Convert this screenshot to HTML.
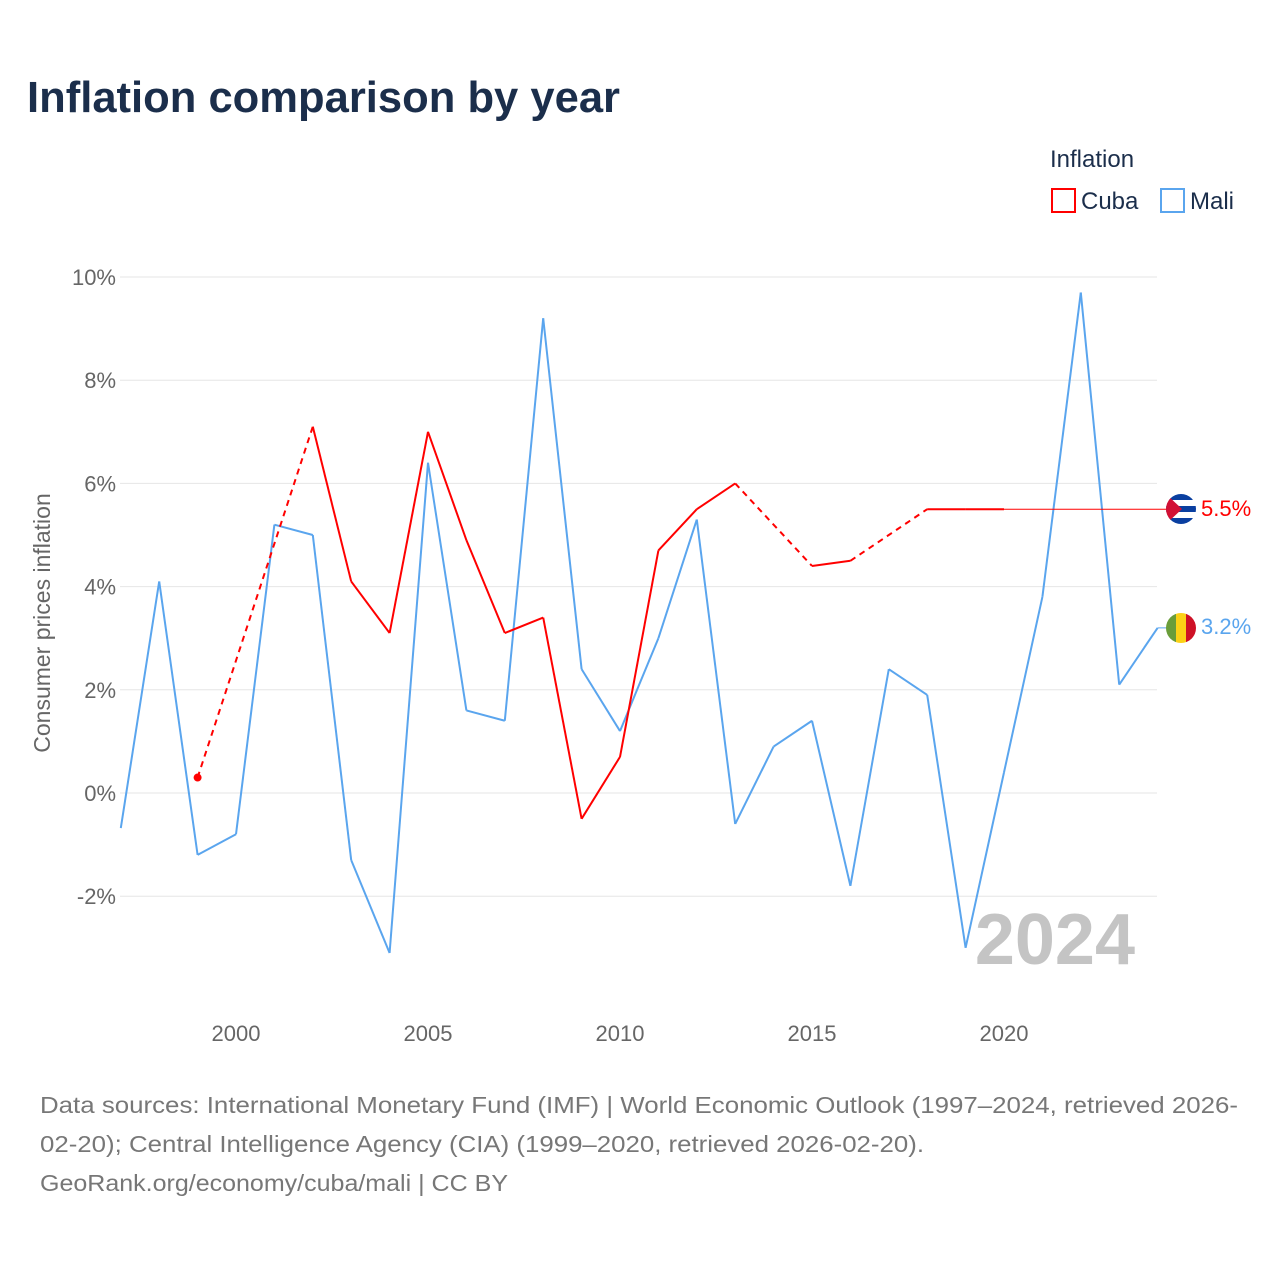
<!DOCTYPE html>
<html><head><meta charset="utf-8"><style>
body{margin:0;background:#fff;font-family:"Liberation Sans",sans-serif}
svg text{font-family:"Liberation Sans",sans-serif}
</style></head><body>
<svg width="1280" height="1280" viewBox="0 0 1280 1280">
<text x="27" y="112" font-size="44" font-weight="bold" fill="#1b2e4b" textLength="593" lengthAdjust="spacingAndGlyphs">Inflation comparison by year</text>
<text x="1050" y="167" font-size="24" fill="#1b2e4b">Inflation</text>
<g><rect x="1052" y="189" width="23" height="23" fill="none" stroke="#f00" stroke-width="2"/><text x="1081" y="209" font-size="24" fill="#1b2e4b">Cuba</text></g>
<g><rect x="1161" y="189" width="23" height="23" fill="none" stroke="#5aa5ee" stroke-width="2"/><text x="1190" y="209" font-size="24" fill="#1b2e4b">Mali</text></g>
<g id="grid"></g><g id="xt"></g>
<text x="1135" y="964" font-size="72" font-weight="bold" fill="#c4c4c4" text-anchor="end">2024</text>
<text transform="translate(50,623) rotate(-90)" font-size="23" fill="#666" text-anchor="middle">Consumer prices inflation</text>
<g id="series"></g>
<g><clipPath id="c1"><circle cx="1181" cy="509" r="15"/></clipPath><g clip-path="url(#c1)"><rect x="1166" y="494" width="30" height="30" fill="#fff"/><rect x="1166" y="494" width="30" height="6" fill="#0a3fa0"/><rect x="1166" y="506" width="30" height="6" fill="#0a3fa0"/><rect x="1166" y="518" width="30" height="6" fill="#0a3fa0"/><polygon points="1166,494 1182,509 1166,524" fill="#d21034"/></g></g>
<text x="1201" y="516" font-size="22" fill="#f00">5.5%</text>
<g><clipPath id="c2"><circle cx="1181" cy="628" r="15"/></clipPath><g clip-path="url(#c2)"><rect x="1166" y="613" width="10" height="30" fill="#6a9d3a"/><rect x="1176" y="613" width="10" height="30" fill="#fcd116"/><rect x="1186" y="613" width="10" height="30" fill="#ce1126"/></g></g>
<text x="1201" y="634" font-size="22" fill="#5aa5ee">3.2%</text>
<g font-size="23" fill="#777">
<text x="40" y="1113" textLength="1198" lengthAdjust="spacingAndGlyphs">Data sources: International Monetary Fund (IMF) | World Economic Outlook (1997–2024, retrieved 2026-</text>
<text x="40" y="1152" textLength="884" lengthAdjust="spacingAndGlyphs">02-20); Central Intelligence Agency (CIA) (1999–2020, retrieved 2026-02-20).</text>
<text x="40" y="1191" textLength="468" lengthAdjust="spacingAndGlyphs">GeoRank.org/economy/cuba/mali | CC BY</text></g>
</svg>
<script>
const years=[1997,1998,1999,2000,2001,2002,2003,2004,2005,2006,2007,2008,2009,2010,2011,2012,2013,2014,2015,2016,2017,2018,2019,2020,2021,2022,2023,2024];
const mali=[-0.68,4.1,-1.2,-0.8,5.2,5.0,-1.3,-3.1,6.4,1.6,1.4,9.2,2.4,1.2,3.0,5.3,-0.6,0.9,1.4,-1.8,2.4,1.9,-3.0,0.4,3.8,9.7,2.1,3.2];
const cuba=[null,null,0.3,null,null,7.1,4.1,3.1,7.0,4.9,3.1,3.4,-0.5,0.7,4.7,5.5,6.0,null,4.4,4.5,null,5.5,5.5,5.5,null,null,null,null];
const yTicks=[-2,0,2,4,6,8,10];
const xTicks=[2000,2005,2010,2015,2020];
const X=y=>120.8+(y-1997)*38.4, Y=v=>793-v*51.6;
const NS="http://www.w3.org/2000/svg";
function mk(t,a,p){const e=document.createElementNS(NS,t);for(const k in a)e.setAttribute(k,a[k]);p.appendChild(e);return e;}
const g=document.getElementById('grid');
yTicks.forEach(v=>{const l=mk('line',{x1:120,x2:1157,y1:Y(v),y2:Y(v),stroke:'#e6e6e6'},g);


const t=mk('text',{x:116,y:Y(v)+8,'font-size':22,fill:'#666','text-anchor':'end'},g);t.textContent=v+'%';

});
const xt=document.getElementById('xt');
xTicks.forEach(v=>{const t=mk('text',{x:X(v),y:1041,'font-size':22,fill:'#666','text-anchor':'middle'},xt);t.textContent=v;

});
const s=document.getElementById('series');
function draw(vals,color,name){
 let prev=-1;
 vals.forEach((v,i)=>{if(v==null)return;
  if(prev>=0){const l=mk('line',{x1:X(years[prev]),y1:Y(vals[prev]),x2:X(years[i]),y2:Y(v),stroke:color,'stroke-width':2},s);
   if(i-prev>1)l.setAttribute('stroke-dasharray','6,5');
   
   }
  prev=i;});
 return prev;
}
draw(mali,'#5aa5ee','mali');
const lastC=draw(cuba,'#f00','cuba');
const c=mk('circle',{cx:X(1999),cy:Y(cuba[2]),r:4,fill:'#f00'},s);


const ext=mk('line',{x1:X(years[lastC]),y1:Y(cuba[lastC]),x2:1170,y2:Y(cuba[lastC]),stroke:'#f00','stroke-width':1},s);


const ext2=mk('line',{x1:X(2024),y1:Y(mali[27]),x2:1170,y2:Y(mali[27]),stroke:'#5aa5ee','stroke-width':1},s);


</script>
</body></html>
